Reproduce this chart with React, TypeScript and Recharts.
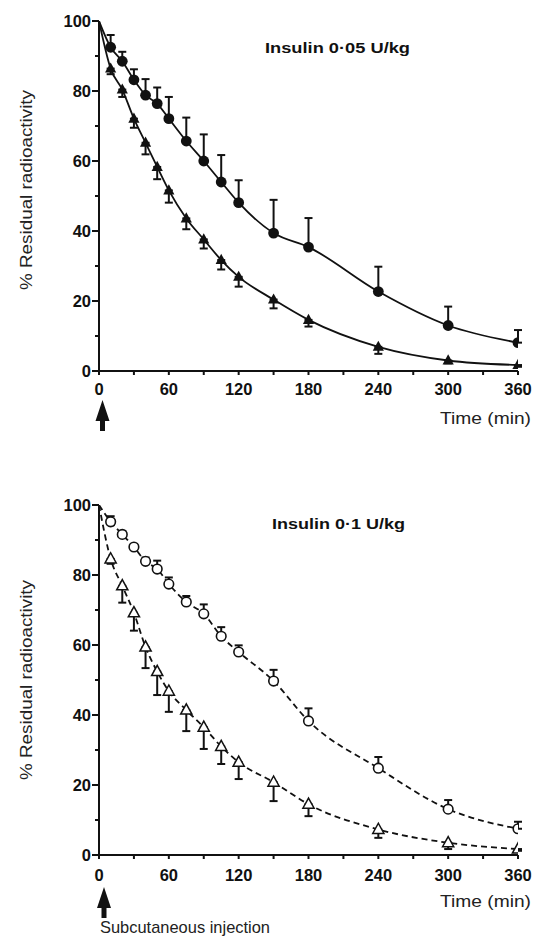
import React from "react";
import { ComposedChart, Line, XAxis, YAxis, ErrorBar } from "recharts";

// ---- data ----
const times = [10, 20, 30, 40, 50, 60, 75, 90, 105, 120, 150, 180, 240, 300, 360];
const startTime = 0;
const startValue = 100;

// Insulin 0.05 U/kg
const lowCircle = [92.5, 88.5, 83.2, 78.8, 76.4, 72.1, 65.7, 60.0, 54.0, 48.1, 39.4, 35.4, 22.7, 13.0, 8.1];
const lowCircleErr = [3.5, 2.7, 3.0, 4.6, 4.6, 6.2, 6.7, 7.6, 7.7, 6.4, 9.5, 8.3, 7.1, 5.4, 3.6];
const lowTri = [86.4, 80.4, 72.1, 65.2, 58.3, 51.6, 43.6, 37.6, 31.7, 26.9, 20.4, 14.6, 6.9, 3.0, 1.7];
const lowTriErr = [1.6, 2.1, 2.6, 3.3, 3.5, 3.5, 3.1, 2.6, 2.7, 2.8, 2.5, 1.9, 2.0, 0.8, 0.5];

// Insulin 0.1 U/kg
const highCircle = [95.2, 91.6, 88.0, 83.9, 81.7, 77.4, 72.3, 68.9, 62.5, 58.0, 49.7, 38.3, 24.8, 13.1, 7.5];
const highCircleErr = [1.6, 1.0, 0, 1.1, 2.4, 1.9, 1.7, 2.7, 2.6, 1.9, 3.2, 3.6, 3.2, 2.6, 2.0];
const highTri = [84.6, 76.9, 69.2, 59.4, 52.4, 46.8, 41.4, 36.5, 31.0, 26.5, 20.8, 14.5, 7.3, 3.5, 1.7];
const highTriErr = [1.4, 4.8, 5.1, 6.0, 6.7, 5.9, 6.0, 6.2, 5.0, 4.8, 5.4, 3.4, 2.4, 1.8, 0.5];

const xTicks = [0, 30, 60, 90, 120, 150, 180, 210, 240, 270, 300, 330, 360];
const yTicks = [0, 10, 20, 30, 40, 50, 60, 70, 80, 90, 100];

const topTitle = "Insulin 0·05 U/kg";
const bottomTitle = "Insulin 0·1 U/kg";
const yLabel = "% Residual radioactivity";
const xLabel = "Time (min)";
const injectionLabel = "Subcutaneous injection";

// ---- helpers ----
const curveData = (vals: number[]) => [
  { t: startTime, v: startValue },
  ...times.map((t, i) => ({ t, v: vals[i] })),
];
const markerData = (vals: number[], errs: number[], up: boolean) =>
  times.map((t, i) => ({ t, v: vals[i], e: up ? [0, errs[i]] : [errs[i], 0] }));

const FONT = "'Liberation Sans', Arial, Helvetica, sans-serif";
const INK = "#111";

const YTick = (props: any) => {
  const { x, y, payload } = props;
  const major = payload.value % 20 === 0;
  return (
    <g>
      <line x1={x} x2={x - (major ? 7 : 4)} y1={y} y2={y} stroke={INK} strokeWidth={2} />
      {major && (
        <text x={x - 8} y={y} dy="0.36em" textAnchor="end" fontFamily={FONT} fontWeight="bold" fontSize={16.5} fill={INK}>
          {payload.value}
        </text>
      )}
    </g>
  );
};

const makeXTick = (offset: number) => (props: any) => {
  const { x, y, payload } = props;
  const major = payload.value % 60 === 0;
  return (
    <g>
      <line x1={x} x2={x} y1={y} y2={y + 4} stroke={INK} strokeWidth={2} />
      {major && (
        <text x={x} y={y + offset} textAnchor="middle" fontFamily={FONT} fontWeight="bold" fontSize={16.5} fill={INK}>
          {payload.value}
        </text>
      )}
    </g>
  );
};

const makeDot = (kind: "fc" | "ft" | "oc" | "ot") => (props: any) => {
  const { cx, cy, index } = props;
  const k = `d${index}`;
  if (cx == null || cy == null) return <g key={k} />;
  if (kind === "fc") return <circle key={k} cx={cx} cy={cy} r={5.4} fill={INK} />;
  if (kind === "oc")
    return <circle key={k} cx={cx} cy={cy} r={4.8} fill="#fff" stroke={INK} strokeWidth={1.6} />;
  const pts = `${cx},${cy - 6.2} ${cx - 5.6},${cy + 4} ${cx + 5.6},${cy + 4}`;
  if (kind === "ft") return <polygon key={k} points={pts} fill={INK} />;
  return <polygon key={k} points={pts} fill="#fff" stroke={INK} strokeWidth={1.5} strokeLinejoin="miter" />;
};

type PanelProps = {
  height: number;
  bottomMargin: number;
  labelOffset: number;
  circle: number[];
  circleErr: number[];
  tri: number[];
  triErr: number[];
  dashed: boolean;
};

const Panel = ({ height, bottomMargin, labelOffset, circle, circleErr, tri, triErr, dashed }: PanelProps) => {
  const dash = dashed ? "6 4" : undefined;
  return (
    <ComposedChart width={548} height={height} margin={{ top: 21, right: 30, bottom: bottomMargin, left: 39 }}>
      <XAxis
        type="number"
        dataKey="t"
        domain={[0, 360]}
        ticks={xTicks}
        interval={0}
        tickLine={false}
        tickSize={0}
        tickMargin={0}
        tick={makeXTick(labelOffset)}
        height={30}
        axisLine={{ stroke: INK, strokeWidth: 2 }}
        allowDataOverflow
      />
      <YAxis
        type="number"
        dataKey="v"
        domain={[0, 100]}
        ticks={yTicks}
        interval={0}
        tickLine={false}
        tickSize={0}
        tickMargin={0}
        tick={YTick}
        width={60}
        axisLine={{ stroke: INK, strokeWidth: 2 }}
        allowDataOverflow
      />
      <Line
        data={curveData(circle)}
        dataKey="v"
        type="monotone"
        stroke={INK}
        strokeWidth={1.8}
        strokeDasharray={dash}
        dot={false}
        activeDot={false}
        isAnimationActive={false}
      />
      <Line
        data={curveData(tri)}
        dataKey="v"
        type="monotone"
        stroke={INK}
        strokeWidth={1.8}
        strokeDasharray={dash}
        dot={false}
        activeDot={false}
        isAnimationActive={false}
      />
      <Line
        data={markerData(circle, circleErr, true)}
        dataKey="v"
        stroke="none"
        dot={makeDot(dashed ? "oc" : "fc")}
        activeDot={false}
        isAnimationActive={false}
      >
        <ErrorBar dataKey="e" direction="y" width={4} stroke={INK} strokeWidth={2} isAnimationActive={false} />
      </Line>
      <Line
        data={markerData(tri, triErr, false)}
        dataKey="v"
        stroke="none"
        dot={makeDot(dashed ? "ot" : "ft")}
        activeDot={false}
        isAnimationActive={false}
      >
        <ErrorBar dataKey="e" direction="y" width={4} stroke={INK} strokeWidth={2} isAnimationActive={false} />
      </Line>
    </ComposedChart>
  );
};

const Arrow = ({ cx, tip }: { cx: number; tip: number }) => (
  <polygon
    points={`${cx},${tip} ${cx + 7},${tip + 21} ${cx + 2.5},${tip + 21} ${cx + 2.5},${tip + 31} ${cx - 2.5},${tip + 31} ${cx - 2.5},${tip + 21} ${cx - 7},${tip + 21}`}
    fill={INK}
  />
);

export default function App() {
  return (
    <div style={{ position: "absolute", left: 0, top: 0, width: 548, height: 938, background: "#fff" }}>
      <div style={{ position: "absolute", left: 0, top: 0 }}>
        <Panel
          height={450}
          bottomMargin={49}
          labelOffset={24}
          circle={lowCircle}
          circleErr={lowCircleErr}
          tri={lowTri}
          triErr={lowTriErr}
          dashed={false}
        />
      </div>
      <div style={{ position: "absolute", left: 0, top: 484 }}>
        <Panel
          height={454}
          bottomMargin={53}
          labelOffset={26}
          circle={highCircle}
          circleErr={highCircleErr}
          tri={highTri}
          triErr={highTriErr}
          dashed={true}
        />
      </div>
      <svg
        width={548}
        height={938}
        style={{ position: "absolute", left: 0, top: 0, pointerEvents: "none" }}
      >
        <g fontFamily={FONT} fill={INK}>
          <text x={265} y={53} fontSize={15.5} fontWeight="bold" textLength={145} lengthAdjust="spacingAndGlyphs">
            {topTitle}
          </text>
          <text x={272} y={529} fontSize={15.5} fontWeight="bold" textLength={133} lengthAdjust="spacingAndGlyphs">
            {bottomTitle}
          </text>
          <text
            x={32}
            y={190}
            fontSize={17}
            textAnchor="middle"
            transform="rotate(-90 32 190)"
            textLength={200}
            lengthAdjust="spacingAndGlyphs"
            fill="#222"
          >
            {yLabel}
          </text>
          <text
            x={32}
            y={680}
            fontSize={17}
            textAnchor="middle"
            transform="rotate(-90 32 680)"
            textLength={200}
            lengthAdjust="spacingAndGlyphs"
            fill="#222"
          >
            {yLabel}
          </text>
          <text x={440} y={424} fontSize={17} textLength={91} lengthAdjust="spacingAndGlyphs" fill="#222">
            {xLabel}
          </text>
          <text x={440} y={907} fontSize={17} textLength={91} lengthAdjust="spacingAndGlyphs" fill="#222">
            {xLabel}
          </text>
          <text x={100} y={933} fontSize={17} textLength={170} lengthAdjust="spacingAndGlyphs" fill="#222">
            {injectionLabel}
          </text>
        </g>
        <Arrow cx={102.5} tip={400} />
        <Arrow cx={104} tip={887} />
      </svg>
    </div>
  );
}
